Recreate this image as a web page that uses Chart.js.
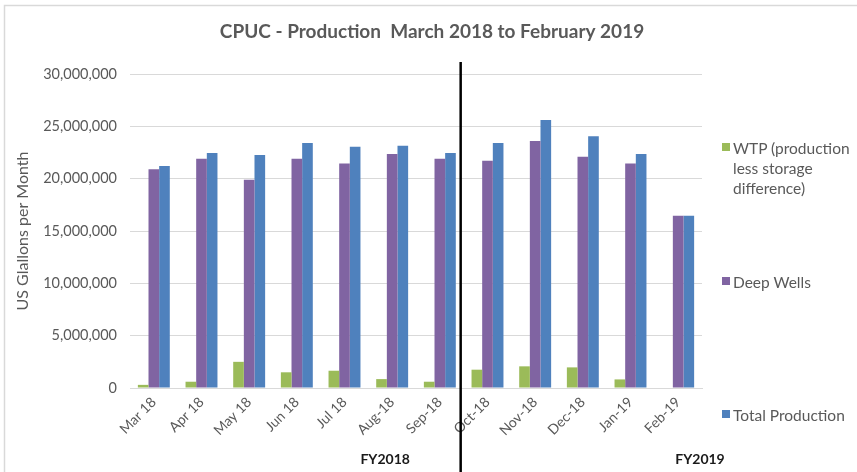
<!DOCTYPE html>
<html>
<head>
<meta charset="utf-8">
<script src="https://cdn.jsdelivr.net/npm/chart.js@4.4.1/dist/chart.umd.min.js"></script>
<style>
  body { margin: 0; background: #fff; }
  #wrap { position: relative; width: 857px; height: 472px; }
  .leg { position: absolute; left: 722px; font-family: Lato, "Open Sans", sans-serif; font-size: 15.5px; color: #595959; line-height: 20px; }
  .leg span.box { position: absolute; left: 0; top: 5px; width: 8px; height: 8px; }
  .leg div.txt { margin-left: 11px; }
</style>
</head>
<body>
<div id="wrap">
  <canvas id="prodChart" width="857" height="472"></canvas>
  <div class="leg" style="top:138px"><span class="box" style="background:#9BBB59"></span><div class="txt">WTP (production<br>less storage<br>difference)</div></div>
  <div class="leg" style="top:272px"><span class="box" style="background:#8064A2"></span><div class="txt">Deep Wells</div></div>
  <div class="leg" style="top:405px"><span class="box" style="background:#4F81BD"></span><div class="txt">Total Production</div></div>
</div>
<script>
// Months on the x axis
const months = ["Mar 18", "Apr 18", "May 18", "Jun 18", "Jul 18", "Aug-18", "Sep-18",
                "Oct-18", "Nov-18", "Dec-18", "Jan-19", "Feb-19"];

// Series values (US gallons per month)
const wtp = [300000, 600000, 2500000, 1500000, 1650000, 850000, 600000,
             1750000, 2070000, 1970000, 820000, 0];
const deepWells = [20900000, 21900000, 19900000, 21900000, 21450000, 22350000, 21900000,
                   21700000, 23600000, 22100000, 21450000, 16450000];
const totalProd = [21200000, 22450000, 22250000, 23400000, 23050000, 23150000, 22450000,
                   23400000, 25600000, 24050000, 22350000, 16450000];

const yTicks = [0, 5000000, 10000000, 15000000, 20000000, 25000000, 30000000];

const fontFam = "Lato, 'Open Sans', sans-serif";
const gray = "#595959";

// title, border, FY divider line and FY labels
const extras = {
    id: "extras",
    afterDraw(chart) {
        const ctx = chart.ctx;
        const x = chart.scales.x;
        const area = chart.chartArea;
        ctx.save();
        // outer border
        ctx.strokeStyle = "#d9d9d9";
        ctx.lineWidth = 1.5;
        ctx.beginPath();
        ctx.moveTo(4.5, 472);
        ctx.lineTo(4.5, 5.5);
        ctx.lineTo(857, 5.5);
        ctx.stroke();
        // title
        ctx.fillStyle = gray;
        ctx.font = "bold 19px " + fontFam;
        ctx.textAlign = "center";
        ctx.textBaseline = "middle";
        ctx.fillText("CPUC - Production  March 2018 to February 2019", 432, 32);
        // divider between fiscal years
        const divX = (x.getPixelForValue(6) + x.getPixelForValue(7)) / 2 - 3;
        ctx.strokeStyle = "#000";
        ctx.lineWidth = 2.5;
        ctx.beginPath();
        ctx.moveTo(divX, 62);
        ctx.lineTo(divX, 472);
        ctx.stroke();
        // FY labels
        ctx.fillStyle = "#1a1a1a";
        ctx.font = "bold 14px " + fontFam;
        ctx.fillText("FY2018", x.getPixelForValue(5) - 7, 459);
        ctx.fillText("FY2019", area.right - 2, 459);
        ctx.restore();
    }
};

const ctx = document.getElementById("prodChart").getContext("2d");
new Chart(ctx, {
    type: "bar",
    data: {
        labels: months,
        datasets: [
            { label: "WTP (production less storage difference)", data: wtp, backgroundColor: "#9BBB59" },
            { label: "Deep Wells", data: deepWells, backgroundColor: "#8064A2" },
            { label: "Total Production", data: totalProd, backgroundColor: "#4F81BD" }
        ]
    },
    options: {
        responsive: false,
        animation: false,
        layout: { padding: { left: 0, right: 155, top: 74, bottom: 0 } },
        datasets: { bar: { categoryPercentage: 0.67, barPercentage: 1.0 } },
        plugins: {
            legend: { display: false },
            tooltip: { enabled: false }
        },
        scales: {
            x: {
                grid: { display: false, drawTicks: false },
                border: { color: "#d9d9d9", width: 1 },
                ticks: {
                    color: gray, font: { family: fontFam, size: 14 },
                    maxRotation: 45, minRotation: 45, padding: 6
                },
                afterFit(scale) { scale.height = 84; }
            },
            y: {
                min: 0, max: 30000000,
                afterBuildTicks(scale) { scale.ticks = yTicks.map(v => ({ value: v })); },
                grid: { color: "#d9d9d9", drawTicks: false },
                border: { display: false },
                ticks: {
                    color: gray, font: { family: fontFam, size: 14.5 }, padding: 13,
                    callback: v => v.toLocaleString("en-US")
                },
                title: {
                    display: true, text: "US Glallons per Month",
                    color: gray, font: { family: fontFam, size: 16 },
                    padding: { top: 13, bottom: 0 }
                },
                afterFit(scale) { scale.width = 130; }
            }
        }
    },
    plugins: [extras]
});
</script>
</body>
</html>
